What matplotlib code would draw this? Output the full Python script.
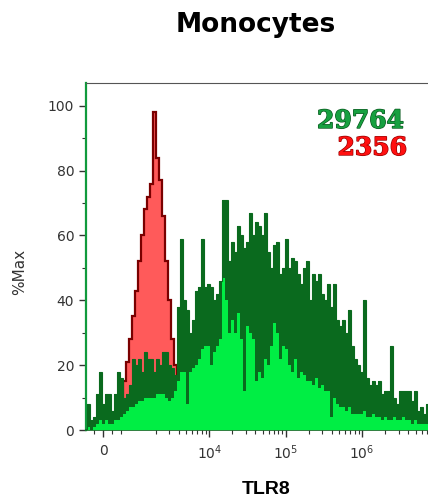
import numpy as np
import matplotlib
matplotlib.use("Agg")
import matplotlib.pyplot as plt
import matplotlib.patheffects as pe

# --- data: %Max per display channel (channels evenly spaced on the biex axis) ---
# green = TLR8 stained, red = control. "hi" = spike tops, "lo" = steady fill level
green_hi = [8, 3, 4, 11, 18, 8, 11, 11, 6, 11, 18, 16, 10, 11, 14, 22, 20, 22, 18, 24,
            22, 22, 18, 22, 20, 24, 24, 20, 19, 17, 38, 59, 40, 37, 30, 34, 43, 44, 59, 44,
            45, 44, 40, 42, 46, 71, 71, 52, 58, 55, 63, 60, 56, 58, 67, 60, 64, 63, 60, 67,
            55, 50, 57, 58, 48, 50, 59, 50, 53, 52, 48, 45, 50, 52, 40, 48, 46, 48, 42, 40,
            45, 38, 45, 34, 32, 34, 30, 37, 26, 22, 20, 18, 40, 16, 14, 15, 14, 15, 11, 12,
            12, 26, 10, 8, 12, 12, 12, 12, 9, 12, 6, 7, 5, 8]
green_lo = [1, 0, 1, 2, 3, 2, 3, 2, 2, 3, 3, 4, 5, 6, 7, 7, 8, 9, 9, 10,
            10, 10, 10, 11, 11, 11, 10, 9, 10, 12, 15, 18, 18, 8, 18, 19, 20, 22, 25, 26,
            26, 20, 24, 26, 28, 47, 40, 30, 34, 30, 36, 28, 12, 32, 30, 28, 15, 18, 16, 22,
            20, 26, 33, 30, 22, 26, 25, 20, 18, 22, 16, 18, 17, 15, 15, 14, 16, 13, 14, 12,
            12, 4, 10, 8, 7, 7, 6, 7, 5, 5, 5, 5, 6, 4, 4, 5, 4, 4, 3, 4,
            3, 3, 4, 3, 3, 4, 3, 3, 2, 3, 2, 2, 2, 2]
red = [0, 0, 0, 0, 0, 0, 0, 0, 0, 0, 3, 9, 15, 21, 28, 35, 43, 52, 60, 68,
       72, 76, 98, 84, 77, 66, 52, 40, 28, 20, 12, 6, 4, 3, 2, 1] + [0] * 78

count_green = "29764"
count_red = "2356"
xtick_vals = [0, 1e4, 1e5, 1e6]
xtick_labels = ["0", "$10^4$", "$10^5$", "$10^6$"]
yticks = [0, 20, 40, 60, 80, 100]

# channel range in scaled units of the symlog axis
chan_lo, chan_hi = -209, 4261

fig = plt.figure(figsize=(4.28, 5.01), dpi=100)
ax = fig.add_axes([86 / 428, 71 / 501, 350 / 428, 347 / 501])
ax.set_xscale("symlog", linthresh=1e3, linscale=0.35)
ax.set_xlim(-575, 9.27e6)
ax.set_ylim(0, 107)

tr = ax.xaxis.get_transform()
edges = tr.inverted().transform(np.linspace(chan_lo, chan_hi, len(green_hi) + 1))

# control (red) behind
ax.stairs(red, edges, fill=True, color="#ff5a5a", zorder=2)
ax.stairs(red, edges, color="#7a0000", lw=1.6, zorder=2.1)

# stained (green) on top
ax.stairs(green_lo, edges, fill=True, color="#00ee44", zorder=3)
ax.stairs(green_hi, edges, baseline=green_lo, fill=True, color="#0a6a1e", zorder=3.1)
ax.stairs(green_hi, edges, color="#0a6a1e", lw=0.8, zorder=3.2)

# axes styling
ax.spines["right"].set_visible(False)
ax.spines["top"].set_color("#555555")
ax.spines["top"].set_linewidth(0.8)
ax.spines["left"].set_color("#109a3c")
ax.spines["left"].set_linewidth(1.6)
ax.spines["bottom"].set_color("#0a6a1e")
ax.spines["bottom"].set_linewidth(1.2)

ax.set_yticks(yticks)
ax.set_yticks([10, 30, 50, 70, 90], minor=True)
ax.set_xticks(xtick_vals)
ax.set_xticklabels(xtick_labels)
minor_x = [m * 10 ** k for k in (3, 4, 5, 6) for m in range(2, 10)] + [-300, 300, 600]
ax.set_xticks([v for v in minor_x if v < 9e6], minor=True)

ax.tick_params(axis="both", which="major", length=5, width=1, color="#333333",
               labelsize=10, labelcolor="#333333")
ax.tick_params(axis="both", which="minor", length=3, width=0.8, color="#333333")
ax.tick_params(axis="x", pad=5)

fig.text(256 / 428, 1 - 25 / 501, "Monocytes", ha="center", va="center",
         fontsize=19, fontweight="bold", family="DejaVu Sans")
fig.text(20 / 428, 1 - 272 / 501, "%Max", rotation=90, ha="center", va="center",
         fontsize=11, color="#333333")
fig.text(266 / 428, 1 - 489 / 501, "TLR8", ha="center", va="center",
         fontsize=14, fontweight="bold", family="Liberation Sans")

t1 = fig.text(404 / 428, 1 - 121 / 501, count_green, ha="right", va="center",
              fontsize=18, fontweight="bold", family="DejaVu Serif", color="#17a040")
t1.set_path_effects([pe.withStroke(linewidth=1.0, foreground="#0a5a20")])
t2 = fig.text(407 / 428, 1 - 148 / 501, count_red, ha="right", va="center",
              fontsize=18, fontweight="bold", family="DejaVu Serif", color="#ff1010")
t2.set_path_effects([pe.withStroke(linewidth=1.0, foreground="#990000")])

fig.savefig("out.png", dpi=100)
